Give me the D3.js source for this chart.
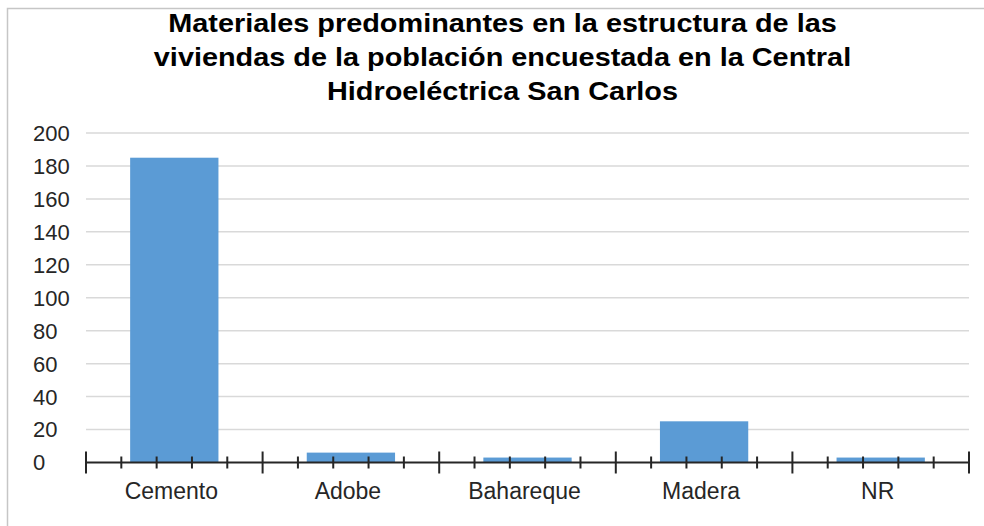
<!DOCTYPE html>
<html>
<head>
<meta charset="utf-8">
<script src="https://cdn.jsdelivr.net/npm/d3@7"></script>
<style>
  html, body { margin: 0; padding: 0; background: #ffffff; }
  svg { display: block; }
</style>
</head>
<body>
<svg id="chart" width="984" height="526"></svg>
<script>
const categories = ["Cemento", "Adobe", "Bahareque", "Madera", "NR"];
const values = [185, 6, 3, 25, 3];
const yTicks = [0, 20, 40, 60, 80, 100, 120, 140, 160, 180, 200];
const titleLines = [
  "Materiales predominantes en la estructura de las",
  "viviendas de la población encuestada en la Central",
  "Hidroeléctrica San Carlos"
];

const svg = d3.select("#chart");
const font = "'Liberation Sans', Arial, sans-serif";

const x0 = 86, x1 = 969, yBase = 462.5, yTop = 133;

// outer chart border (left and top edges visible)
svg.append("path")
  .attr("d", "M7.5,526 L7.5,8.5 L984,8.5")
  .attr("fill", "none").attr("stroke", "#c6c6c6").attr("stroke-width", 1.5);

const x = d3.scaleBand().domain(categories).range([x0, x1])
  .paddingInner(0.5).paddingOuter(0.25);
const y = d3.scaleLinear().domain([0, 200]).range([yBase, yTop]);
const xi = d3.scaleLinear().domain([0, categories.length]).range([x0, x1]);

// gridlines
svg.append("g").selectAll("line").data(yTicks.filter(d => d > 0)).join("line")
  .attr("x1", x0).attr("x2", x1)
  .attr("y1", d => y(d)).attr("y2", d => y(d))
  .attr("stroke", "#d9d9d9").attr("stroke-width", 1.5);

// y labels (left aligned)
svg.append("g").selectAll("text").data(yTicks).join("text")
  .attr("x", 33).attr("y", d => y(d))
  .attr("dy", "0.36em")
  .attr("font-family", font).attr("font-size", 22)
  .attr("fill", "#262626")
  .text(d => d);

// bars
svg.append("g").selectAll("rect").data(values).join("rect")
  .attr("x", (d, i) => x(categories[i]))
  .attr("width", x.bandwidth())
  .attr("y", d => y(d))
  .attr("height", d => yBase - y(d))
  .attr("fill", "#5b9bd5");

// x axis line
svg.append("line")
  .attr("x1", x0).attr("x2", x1).attr("y1", yBase).attr("y2", yBase)
  .attr("stroke", "#262626").attr("stroke-width", 2);

// minor ticks
const minorIdx = d3.range(0, categories.length * 5 + 1).filter(k => k % 5 !== 0).map(k => k / 5);
svg.append("g").selectAll("line").data(minorIdx).join("line")
  .attr("x1", d => xi(d)).attr("x2", d => xi(d))
  .attr("y1", yBase - 6).attr("y2", yBase + 6)
  .attr("stroke", "#262626").attr("stroke-width", 2);

// major ticks
svg.append("g").selectAll("line").data(d3.range(0, categories.length + 1)).join("line")
  .attr("x1", d => xi(d)).attr("x2", d => xi(d))
  .attr("y1", yBase - 11).attr("y2", yBase + 11)
  .attr("stroke", "#262626").attr("stroke-width", 2);

// x labels
svg.append("g").selectAll("text").data(categories).join("text")
  .attr("x", d => x(d) + x.bandwidth() / 2 - 3)
  .attr("y", 499)
  .attr("text-anchor", "middle")
  .attr("font-family", font).attr("font-size", 23)
  .attr("fill", "#262626")
  .text(d => d);

// title (horizontally stretched like the reference)
svg.append("g")
  .attr("transform", "translate(502.5,0) scale(1.11,1)")
  .selectAll("text").data(titleLines).join("text")
  .attr("x", 0)
  .attr("y", (d, i) => 32.5 + i * 34)
  .attr("text-anchor", "middle")
  .attr("font-family", font).attr("font-size", 26).attr("font-weight", "bold")
  .attr("fill", "#000")
  .text(d => d);
</script>
</body>
</html>
